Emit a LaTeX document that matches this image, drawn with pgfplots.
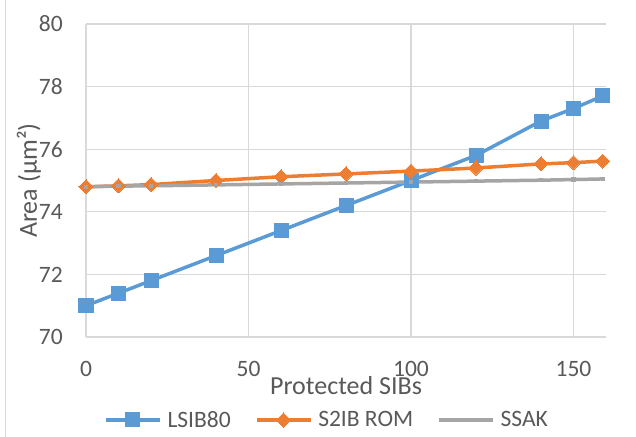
\documentclass[border=0pt]{standalone}
\usepackage{pgfplots}
\pgfplotsset{compat=1.18}
\usepackage{fontspec}
\setmainfont{Carlito}

\definecolor{sblue}{HTML}{5B9BD5}
\definecolor{sorange}{HTML}{ED7D31}
\definecolor{sgray}{HTML}{A5A5A5}
\definecolor{gridgray}{HTML}{D9D9D9}
\definecolor{txtgray}{HTML}{595959}

\pgfplotstableread{
x    lsib  s2ib   ssak
0    71.0  74.80  74.80
10   71.4  74.83  74.82
20   71.8  74.87  74.83
40   72.6  75.00  74.86
60   73.4  75.12  74.89
80   74.2  75.21  74.92
100  75.0  75.30  74.95
120  75.8  75.40  74.98
140  76.9  75.53  75.01
150  77.3  75.57  75.03
159  77.7  75.62  75.05
}\areadata

\begin{document}
\begin{tikzpicture}
\useasboundingbox (-86bp,-100bp) rectangle (550bp,337bp);
\draw[gridgray, line width=1bp] (-80bp,-100bp) -- (-80bp,337bp);
\begin{axis}[
  at={(0,0)}, anchor=south west,
  scale only axis, width=520bp, height=313bp,
  xmin=0, xmax=160, ymin=70, ymax=80,
  xtick={0,50,100,150}, ytick={70,72,...,80},
  grid=major,
  major grid style={gridgray, line width=1.2bp},
  axis x line=bottom, axis y line=left,
  axis line style={-, gridgray, line width=1.2bp},
  major tick length=0pt,
  clip=false,
  /pgf/number format/assume math mode=true,
  tick label style={font=\fontsize{23.5bp}{28bp}\selectfont, text=txtgray},
  xticklabel style={anchor=north, inner sep=0pt, yshift=-24bp},
  yticklabel style={anchor=east, inner sep=0pt, xshift=-23bp},
  label style={font=\fontsize{26bp}{30bp}\selectfont, text=txtgray},
  xlabel={Protected SIBs},
  xlabel style={at={([yshift=-57bp]axis description cs:0.5,0)}, anchor=base, inner sep=0pt},
  ylabel={Area (µm²)},
  ylabel style={at={([xshift=-49bp]axis description cs:0,0.5)}, anchor=base, inner sep=0pt},
  legend columns=3,
  legend style={at={(0.4615,-0.265)}, anchor=center, draw=none, fill=none,
    font=\fontsize{23.5bp}{28bp}\selectfont, text=txtgray,
    nodes={inner xsep=0pt, inner ysep=0pt}},
  /tikz/every odd column/.append style={column sep=6bp},
  /tikz/every even column/.append style={column sep=24bp},
  legend image code/.code={%
    \draw[mark repeat=2, mark phase=2, #1] plot coordinates {(0bp,0bp) (27bp,0bp) (54bp,0bp)};},
]
\addplot[sblue, line width=3.5bp, mark=square*, mark size=7bp, mark options={solid, line width=0pt}]
  table[x=x, y=lsib] {\areadata};
\addlegendentry{LSIB80}
\addplot[sorange, line width=3.5bp, mark=square*, mark size=5bp, mark options={solid, rotate=45, line width=0pt}]
  table[x=x, y=s2ib] {\areadata};
\addlegendentry{S2IB ROM}
\addplot[sgray, line width=3.5bp, mark=square*, mark size=1.75bp, mark options={solid, line width=0pt}]
  table[x=x, y=ssak] {\areadata};
\addlegendentry{SSAK}
\end{axis}
\end{tikzpicture}
\end{document}
